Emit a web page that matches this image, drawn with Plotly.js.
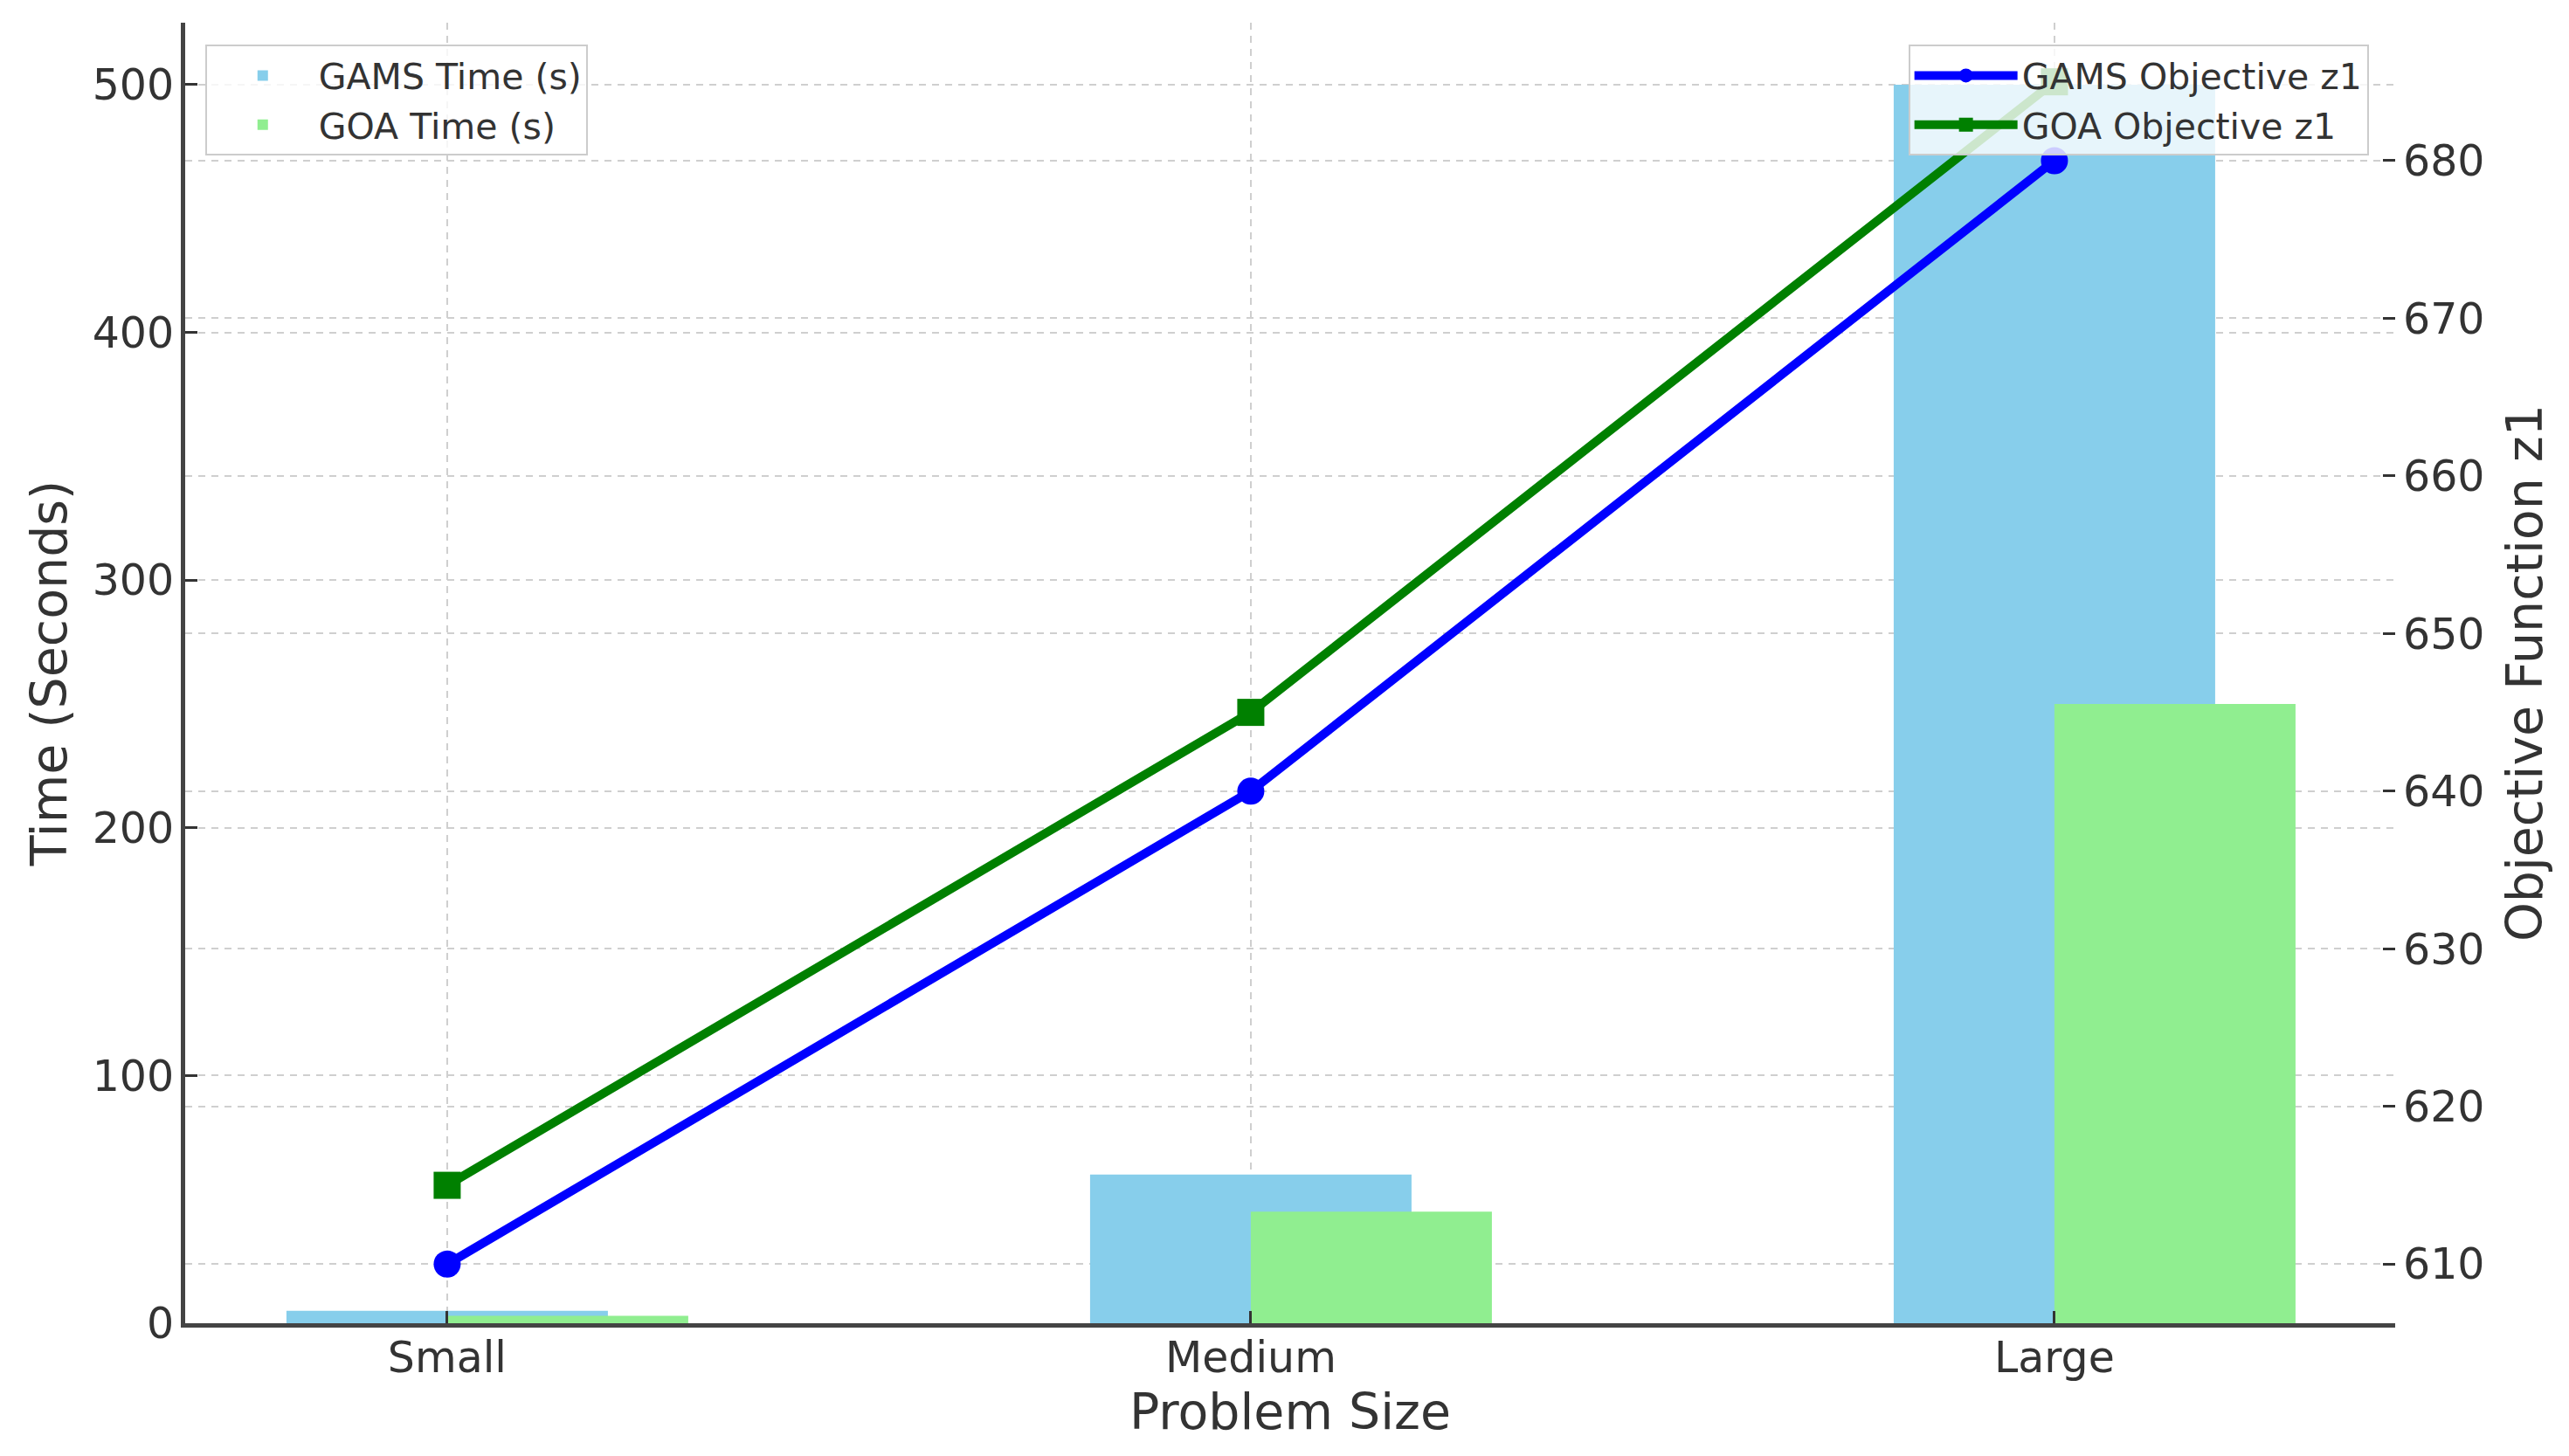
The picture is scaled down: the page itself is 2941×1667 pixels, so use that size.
<!DOCTYPE html>
<html>
<head>
<meta charset="utf-8">
<script src="https://cdn.plot.ly/plotly-3.0.1.min.js"></script>
<style>
  html, body { margin: 0; padding: 0; background: #ffffff; }
  #chart { width: 2941px; height: 1667px; }
</style>
</head>
<body>
<div id="chart"></div>
<script>
// ---- data ----
const categories = ["Small", "Medium", "Large"];
const gamsTime = [5, 60, 500];
const goaTime = [3, 45, 250];
const gamsObjective = [610, 640, 680];
const goaObjective = [615, 645, 685];
const leftTicks = [0, 100, 200, 300, 400, 500];
const rightTicks = [610, 620, 630, 640, 650, 660, 670, 680];

const FONT = "DejaVu Sans, Verdana, sans-serif";
const TXT = "#333333";
const GRID = "#cfcfcf";

const traces = [
  {
    type: "bar", name: "GAMS Time (s)", x: categories, y: gamsTime,
    width: 0.4, offset: -0.2,
    marker: { color: "#87CEEB", line: { width: 0 } },
    xaxis: "x", yaxis: "y", legend: "legend"
  },
  {
    type: "bar", name: "GOA Time (s)", x: categories, y: goaTime,
    width: 0.3, offset: 0,
    marker: { color: "#90EE90", line: { width: 0 } },
    xaxis: "x", yaxis: "y", legend: "legend"
  },
  {
    type: "scatter", mode: "lines+markers", name: "GAMS Objective z1",
    x: categories, y: gamsObjective,
    line: { color: "#0000FF", width: 10 },
    marker: { color: "#0000FF", symbol: "circle", size: 31 },
    xaxis: "x", yaxis: "y2", legend: "legend2"
  },
  {
    type: "scatter", mode: "lines+markers", name: "GOA Objective z1",
    x: categories, y: goaObjective,
    line: { color: "#008000", width: 10 },
    marker: { color: "#008000", symbol: "square", size: 31 },
    xaxis: "x", yaxis: "y2", legend: "legend2"
  }
];

const layout = {
  width: 2941, height: 1667,
  margin: { l: 212, r: 199, t: 26, b: 152, pad: 0 },
  paper_bgcolor: "#ffffff", plot_bgcolor: "#ffffff",
  font: { family: FONT, color: TXT, size: 49 },
  barmode: "overlay",
  showlegend: true,
  xaxis: {
    type: "category",
    categoryorder: "array", categoryarray: categories,
    range: [-0.326, 2.424],
    showline: true, linecolor: "#444444", linewidth: 5,
    mirror: false,
    ticks: "inside", ticklen: 14, tickwidth: 3, tickcolor: "#333333",
    tickfont: { size: 49, color: TXT, family: FONT },
    ticklabelstandoff: -8,
    showgrid: true, gridcolor: GRID, gridwidth: 2, griddash: "8px,7px",
    zeroline: false,
    title: { text: "Problem Size", font: { size: 57, color: TXT, family: FONT }, standoff: 14 },
    automargin: false
  },
  yaxis: {
    range: [0, 525],
    tickmode: "array", tickvals: leftTicks,
    showline: true, linecolor: "#444444", linewidth: 5,
    ticks: "inside", ticklen: 14, tickwidth: 3, tickcolor: "#333333",
    tickfont: { size: 49, color: TXT, family: FONT },
    ticklabelstandoff: -2,
    showgrid: true, gridcolor: GRID, gridwidth: 2, griddash: "8px,7px",
    zeroline: false,
    title: { text: "Time (Seconds)", font: { size: 57, color: TXT, family: FONT }, standoff: 12 },
    automargin: false
  },
  yaxis2: {
    overlaying: "y", side: "right",
    range: [606.25, 688.75],
    tickmode: "array", tickvals: rightTicks,
    showline: false,
    ticks: "inside", ticklen: 14, tickwidth: 3, tickcolor: "#333333",
    tickfont: { size: 49, color: TXT, family: FONT },
    ticklabelstandoff: 8,
    showgrid: true, gridcolor: GRID, gridwidth: 2, griddash: "8px,7px",
    zeroline: false,
    title: { text: "Objective Function z1", font: { size: 57, color: TXT, family: FONT }, standoff: 26 },
    automargin: false
  },
  legend: {
    x: 0.009, y: 0.983, xanchor: "left", yanchor: "top",
    bgcolor: "rgba(255,255,255,0.8)", bordercolor: "#cccccc", borderwidth: 2,
    font: { size: 41, color: TXT, family: FONT },
    itemwidth: 118, tracegroupgap: 0
  },
  legend2: {
    x: 0.988, y: 0.983, xanchor: "right", yanchor: "top",
    bgcolor: "rgba(255,255,255,0.8)", bordercolor: "#cccccc", borderwidth: 2,
    font: { size: 41, color: TXT, family: FONT },
    itemwidth: 118, tracegroupgap: 0
  }
};

Plotly.newPlot("chart", traces, layout, { displayModeBar: false, responsive: false });
</script>
</body>
</html>
